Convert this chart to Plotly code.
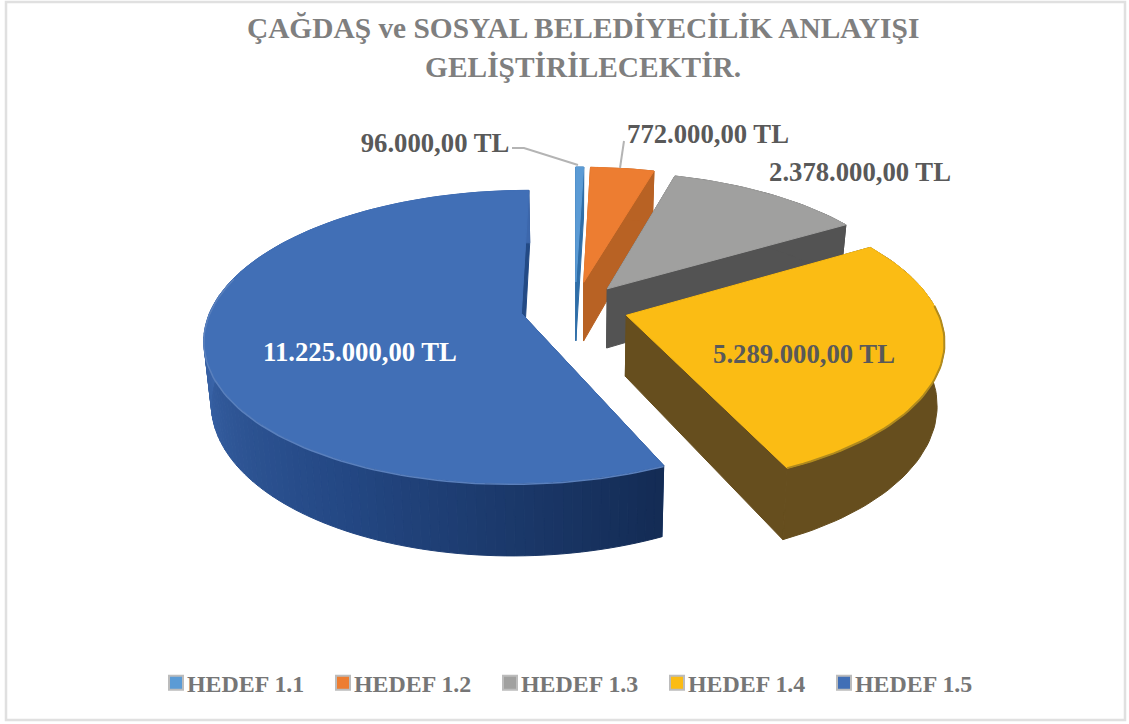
import math
import plotly.graph_objects as go

TITLE = "ÇAĞDAŞ ve SOSYAL BELEDİYECİLİK ANLAYIŞI<br>GELİŞTİRİLECEKTİR."
categories = ["HEDEF 1.1", "HEDEF 1.2", "HEDEF 1.3", "HEDEF 1.4", "HEDEF 1.5"]
values = [96000, 772000, 2378000, 5289000, 11225000]

top_colors = ["#5b9bd5", "#ed7d31", "#a0a09f", "#fbbc14", "#416fb6"]
wall_colors = ["#2f6ea8", "#b86224", "#535353", "#664e1e", "#234a85"]
label_colors = ["#595959", "#595959", "#595959", "#595959", "#ffffff"]
label_x = [435, 708, 860, 804, 360]
label_y = [145, 136, 174, 356, 354]
explode = [0.19, 0.19, 0.175, 0.172, 0.176]

FONT = "Liberation Serif"
CX, CY = 575, 308     # centre of the projection
RX, RY = 310, 141     # plane scale
PERSP = 0.16
DEPTH = 60.5
BOTTOM_X = 0.98
FIRST_ANGLE = 0.0


def proj(gx, gv, low=False):
    s = 1 / (1 + PERSP * gv)
    x = RX * gx * s
    y = CY - RY * gv * s
    if low:
        return CX + x * BOTTOM_X, y + DEPTH * s
    return CX + x, y


def fmt(v):
    return f"{v:,.2f}".replace(",", "#").replace(".", ",").replace("#", ".") + " TL"


def poly(pts, color, width=1):
    return go.Scatter(x=[p[0] for p in pts] + [pts[0][0]], y=[p[1] for p in pts] + [pts[0][1]],
                      mode="lines", fill="toself", fillcolor=color,
                      line=dict(color=color, width=width), hoverinfo="skip", showlegend=False)


def mix(a, b, t):
    return "rgb(%d,%d,%d)" % tuple(a[i] + (b[i] - a[i]) * t for i in range(3))


fig = go.Figure()
total = sum(values)
spans = []
a = FIRST_ANGLE
for v in values:
    b = a + 360 * v / total
    spans.append((a, b))
    a = b


def slice_traces(i):
    start, end = spans[i]
    mid = math.radians((start + end) / 2)
    px, pv = explode[i] * math.sin(mid), explode[i] * math.cos(mid)
    n = max(4, int((end - start) / 1.5))
    ang = [math.radians(start + (end - start) * j / n) for j in range(n + 1)]
    gp = [(px + math.sin(t), pv + math.cos(t)) for t in ang]
    top = [proj(*g) for g in gp]
    low = [proj(*g, low=True) for g in gp]
    piv, pivl = proj(px, pv), proj(px, pv, low=True)
    out = []
    out.append(poly([piv, top[0], low[0], pivl], wall_colors[i]))
    out.append(poly([piv, top[-1], low[-1], pivl], wall_colors[i]))
    if i == 4:
        dark, mid_c, light = (20, 44, 85), (36, 72, 132), (60, 103, 172)
        for j in range(n):
            d = math.degrees(ang[j]) - start
            t = d / 115
            col = mix(dark, mid_c, t / 0.45) if t < 0.45 else mix(mid_c, light, min(1, (t - 0.45) / 0.55))
            out.append(poly([top[j], top[j + 1], low[j + 1], low[j]], col))
    else:
        out.append(poly(top + low[::-1], wall_colors[i]))
    out.append(poly([piv] + top, top_colors[i]))
    if i == 4:
        edge = [p for p, t in zip(top, ang) if math.degrees(t) < 285]
        out.append(go.Scatter(x=[p[0] for p in edge], y=[p[1] + 1 for p in edge], mode="lines",
                              line=dict(color="#5a80bd", width=1.5), hoverinfo="skip", showlegend=False))
    if i == 3:
        edge = [p for p, t in zip(top, ang) if math.degrees(t) > 85]
        out.append(go.Scatter(x=[p[0] for p in edge], y=[p[1] for p in edge], mode="lines",
                              line=dict(color="#b08a1e", width=2), hoverinfo="skip", showlegend=False))
    return out


for i in [4, 0, 1, 2, 3]:
    fig.add_traces(slice_traces(i))

# leader lines
fig.add_trace(go.Scatter(x=[512, 524, 578], y=[148, 148, 165], mode="lines",
                         line=dict(color="#b4b4b4", width=2), hoverinfo="skip", showlegend=False))
fig.add_trace(go.Scatter(x=[624, 620], y=[141, 168], mode="lines",
                         line=dict(color="#b4b4b4", width=2), hoverinfo="skip", showlegend=False))

# data labels
fig.add_trace(go.Scatter(x=label_x, y=label_y, mode="text", text=[fmt(v) for v in values],
                         textposition="middle center",
                         textfont=dict(family=FONT, size=26.7, color=label_colors, weight="bold"),
                         hoverinfo="skip", showlegend=False))

# legend entries
for name, col in zip(categories, top_colors):
    fig.add_trace(go.Scatter(x=[None], y=[None], mode="markers", name=name,
                             marker=dict(symbol="square", size=14, color=col,
                                         line=dict(color="#bcbcbc", width=2))))

fig.update_layout(
    width=1129, height=724, margin=dict(l=0, r=0, t=0, b=0),
    paper_bgcolor="white", plot_bgcolor="white",
    xaxis=dict(range=[0, 1129], visible=False, fixedrange=True),
    yaxis=dict(range=[724, 0], visible=False, fixedrange=True),
    title=dict(text=TITLE, x=0.5165, xanchor="center", y=0.947, yanchor="top",
               font=dict(family=FONT, size=29.4, color="#7f7f7f", weight="bold")),
    legend=dict(orientation="h", x=0.5, xanchor="center", y=0.0565, yanchor="middle",
                entrywidth=122, entrywidthmode="pixels", itemwidth=30,
                font=dict(family=FONT, size=23.9, color="#767676", weight="bold"),
                bgcolor="rgba(0,0,0,0)"),
    shapes=[dict(type="rect", xref="x", yref="y", x0=6, y0=2, x1=1125, y1=720,
                 line=dict(color="#e0e0e0", width=2.5), layer="below")],
)

fig.write_html(
    "out.html",
    config={"displayModeBar": False},
    post_script=(
        "document.body.style.margin='0';"
        "var st=document.createElement('style');"
        "st.textContent='.legend .legendsymbols{transform:translate(9px,0)}';"
        "document.head.appendChild(st);"
    ),
)
